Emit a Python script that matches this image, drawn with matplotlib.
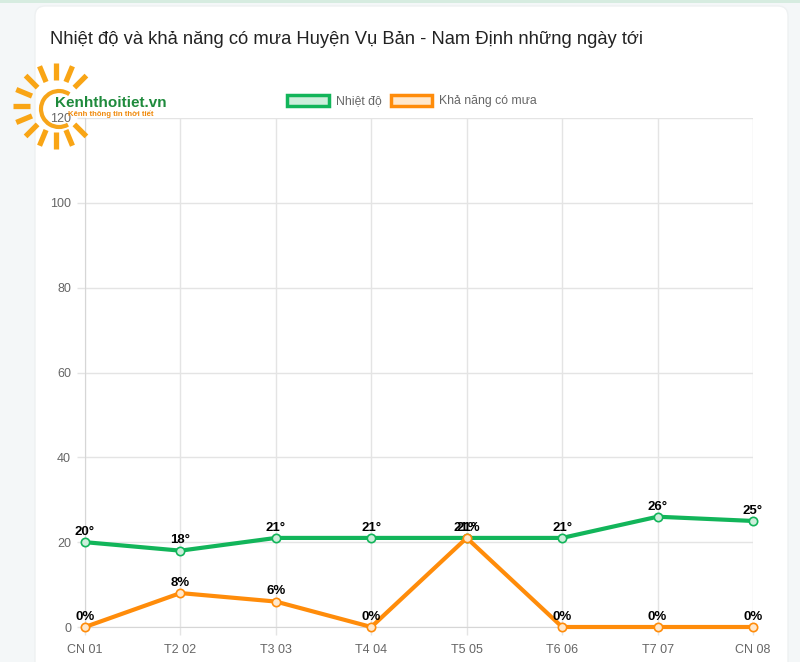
import numpy as np
import matplotlib.pyplot as plt
from matplotlib.patches import FancyBboxPatch, Patch, Arc, Rectangle

# dữ liệu
days = ["CN 01", "T2 02", "T3 03", "T4 04", "T5 05", "T6 06", "T7 07", "CN 08"]
temp = [20, 18, 21, 21, 21, 21, 26, 25]
rain = [0, 8, 6, 0, 21, 0, 0, 0]
yticks = [0, 20, 40, 60, 80, 100, 120]

title = "Nhiệt độ và khả năng có mưa Huyện Vụ Bản - Nam Định những ngày tới"

green = "#12b55a"
green_fill = "#cdeedb"
orange = "#ff8c0a"
orange_fill = "#ffe8cc"
grid_c = "#e4e4e4"

plt.rcParams["font.family"] = ["Liberation Sans", "DejaVu Sans"]

W, H = 800, 662
fig = plt.figure(figsize=(W / 100, H / 100), dpi=100)
fig.patch.set_facecolor("#f4f7f8")

# nền thẻ trắng
bg = fig.add_axes([0, 0, 1, 1], zorder=0)
bg.set_xlim(0, W)
bg.set_ylim(H, 0)
bg.axis("off")
bg.add_patch(Rectangle((0, 0), W, 3, color="#d6ece0", lw=0))
bg.add_patch(FancyBboxPatch((35, 6), 753, 720, boxstyle="round,pad=0,rounding_size=10",
                            fc="white", ec="#eef1f2", lw=1))
bg.text(50, 40, title, fontsize=13.2, color="#222222", va="center", ha="left")

# biểu đồ
x0, x1, y0, y1 = 85, 753, 627, 118
ax = fig.add_axes([x0 / W, 1 - y0 / H, (x1 - x0) / W, (y0 - y1) / H], zorder=1)
ax.patch.set_alpha(0)
x = np.arange(len(days))

ax.plot(x, temp, color=green, lw=3, zorder=3, clip_on=False,
        marker="o", ms=6, mfc=green_fill, mec=green, mew=1.2)
ax.plot(x, rain, color=orange, lw=3, zorder=3, clip_on=False,
        marker="o", ms=6, mfc=orange_fill, mec=orange, mew=1.2)

for xi, t in zip(x, temp):
    ax.annotate(f"{t}°", (xi, t), xytext=(0, 3), textcoords="offset points",
                ha="center", va="bottom", fontsize=9.5, fontweight="bold", color="black")
for xi, r in zip(x, rain):
    ax.annotate(f"{r}%", (xi, r), xytext=(0, 3), textcoords="offset points",
                ha="center", va="bottom", fontsize=9.5, fontweight="bold", color="black")

ax.set_xlim(0, len(days) - 1)
ax.set_ylim(0, 120)
ax.set_xticks(x)
ax.set_xticklabels(days)
ax.set_yticks(yticks)
ax.grid(True, color=grid_c, lw=1)
ax.set_axisbelow(True)
for s in ["top", "right"]:
    ax.spines[s].set_visible(False)
for s in ["left", "bottom"]:
    ax.spines[s].set_color("#d6d6d6")
ax.tick_params(colors=grid_c, labelcolor="#666666", labelsize=9, length=6, width=1)
ax.tick_params(axis="x", pad=6)
ax.tick_params(axis="y", pad=4)

handles = [Patch(fc=green_fill, ec=green, lw=2.5, label="Nhiệt độ"),
           Patch(fc=orange_fill, ec=orange, lw=2.5, label="Khả năng có mưa")]
fig.legend(handles=handles, loc="center", bbox_to_anchor=(412 / W, 1 - 101 / H), ncol=2,
           frameon=False, fontsize=8.8, labelcolor="#666666", handlelength=3.4,
           handleheight=1.0, handletextpad=0.55, columnspacing=0.75)

# logo
lg = fig.add_axes([0, 0, 1, 1], zorder=5)
lg.set_xlim(0, W)
lg.set_ylim(H, 0)
lg.axis("off")
cx, cy = 56, 106
for a in np.arange(45, 320, 22.5):
    t = np.deg2rad(a)
    lg.plot([cx + 26 * np.cos(t), cx + 43 * np.cos(t)],
            [cy - 26 * np.sin(t), cy - 43 * np.sin(t)],
            color="#f9a515", lw=3.8, solid_capstyle="butt")
lg.add_patch(Arc((cx + 3, cy + 3), 36, 36, theta1=-300, theta2=-55, color="#f7a51a", lw=3))
lg.text(55, 103, "Kenhthoitiet.vn", fontsize=11, fontweight="bold", color="#1e8a3c",
        va="center", ha="left")
lg.text(68, 114, "Kênh thông tin thời tiết", fontsize=5.6, fontweight="bold",
        color="#f08a0c", va="center", ha="left")

fig.savefig("out.png", dpi=100, facecolor=fig.get_facecolor())
